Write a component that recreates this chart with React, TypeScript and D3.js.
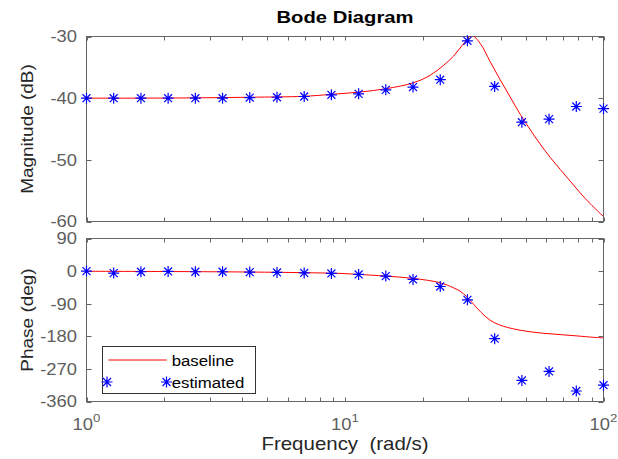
import React from 'react';
import * as d3 from 'd3';

// ---- data ----
const magFreq = [1, 2.10, 4.29, 6.90, 8.75, 11.43, 14.50, 18.39, 21.33, 24.02, 26.27, 28.71, 30.94, 33.32, 36.41, 39.82, 43.54, 47.60, 52.04, 56.89, 62.21, 68.0, 74.3, 81.2, 88.8, 100];
const magBaseline = [-40, -39.98, -39.85, -39.7, -39.4, -39.0, -38.45, -37.5, -36.3, -34.7, -33.2, -31.2, -29.85, -31.1, -34.05, -37.0, -39.8, -42.6, -45.1, -47.45, -49.6, -51.55, -53.45, -55.35, -57.1, -59.2];

const phaseFreq = [1, 2.10, 4.29, 6.90, 9.56, 11.26, 14.38, 18.39, 23.33, 26.27, 27.88, 29.59, 32.36, 34.83, 37.52, 41.02, 44.85, 50.52, 58.6, 68.0, 78.9, 91.5, 100];
const phaseBaseline = [-0.5, -1.2, -2.6, -4.3, -6.4, -9.1, -13.8, -20.2, -32.1, -46, -55.4, -71, -101.4, -124.6, -141.2, -152.3, -159.5, -166.2, -171.7, -175.3, -178.9, -182.8, -184.4];

const estFreq = [1, 1.274, 1.624, 2.069, 2.637, 3.360, 4.281, 5.456, 6.952, 8.859, 11.29, 14.38, 18.33, 23.36, 29.76, 37.93, 48.33, 61.58, 78.48, 100];
const estMag = [-40, -40, -40, -40, -40, -40, -39.9, -39.85, -39.73, -39.45, -39.3, -38.65, -38.2, -37.0, -30.7, -38.1, -43.9, -43.4, -41.35, -41.7];
const estPhase = [0, -5.5, -1.8, -0.9, -1.8, -1.8, -2.8, -3.7, -5, -6.5, -9.2, -13.8, -23, -42.5, -79.4, -186.5, -301.9, -277, -331, -315];

const magTicks = [-60, -50, -40, -30];
const phaseTicks = [-360, -270, -180, -90, 0, 90];
const xMajor = [1, 10, 100];
const xMinor = [2, 3, 4, 5, 6, 7, 8, 9, 20, 30, 40, 50, 60, 70, 80, 90];
const xExp = ['0', '1', '2'];

const title = 'Bode Diagram';
const magLabel = 'Magnitude (dB)';
const phaseLabel = 'Phase (deg)';
const xLabel = 'Frequency  (rad/s)';
const legendNames = ['baseline', 'estimated'];

// ---- layout ----
const W = 618, H = 459;
const X0 = 86.5, X1 = 603.5;
const M_T = 36.5, M_B = 221.5;
const P_T = 238.5, P_B = 401.5;
const FONT = '"Liberation Sans", Arial, Helvetica, sans-serif';
const AX = '#666666';
const TXT = '#5e5e5e';
const SX = 1.15;

const x = d3.scaleLog().domain([1, 100]).range([X0, X1]);
const yM = d3.scaleLinear().domain([-60, -30]).range([M_B, M_T]);
const yP = d3.scaleLinear().domain([-360, 90]).range([P_B, P_T]);

function star(cx: number, cy: number, r = 5.5) {
  const d = r * 0.72;
  return `M${cx - r},${cy}L${cx + r},${cy}M${cx},${cy - r}L${cx},${cy + r}` +
    `M${cx - d},${cy - d}L${cx + d},${cy + d}M${cx - d},${cy + d}L${cx + d},${cy - d}`;
}

function Txt(props: any) {
  const { x: tx, y: ty, rotate = 0, sx = SX, size = 16, anchor = 'middle', weight = 'normal', fill = TXT, children } = props;
  return (
    <text
      transform={`translate(${tx},${ty}) rotate(${rotate}) scale(${sx},1)`}
      textAnchor={anchor}
      fontSize={size}
      fontWeight={weight}
      fontFamily={FONT}
      fill={fill}
      style={{ whiteSpace: 'pre' }}
    >
      {children}
    </text>
  );
}

function Axes({ y, top, bottom, ticks, clipId }: any) {
  return (
    <g>
      <rect x={X0} y={top} width={X1 - X0} height={bottom - top} fill="white" stroke={AX} strokeWidth={1} />
      {xMajor.concat(xMinor).map((v, i) => (
        <g key={'xt' + i}>
          <line x1={Math.round(x(v)) + 0.5} x2={Math.round(x(v)) + 0.5} y1={bottom} y2={bottom - 4} stroke={AX} />
          <line x1={Math.round(x(v)) + 0.5} x2={Math.round(x(v)) + 0.5} y1={top} y2={top + 4} stroke={AX} />
        </g>
      ))}
      {ticks.map((t: number) => (
        <g key={'yt' + t}>
          <line x1={X0} x2={X0 + 5} y1={Math.round(y(t)) + 0.5} y2={Math.round(y(t)) + 0.5} stroke={AX} />
          <line x1={X1} x2={X1 - 5} y1={Math.round(y(t)) + 0.5} y2={Math.round(y(t)) + 0.5} stroke={AX} />
          <Txt x={77} y={y(t) + 5.8} anchor="end">{String(t)}</Txt>
        </g>
      ))}
      <clipPath id={clipId}>
        <rect x={X0} y={top} width={X1 - X0} height={bottom - top} />
      </clipPath>
    </g>
  );
}

export default function App() {
  const magLine = d3.line<number>()
    .x((_, i) => x(magFreq[i]))
    .y((d) => yM(d))
    .curve(d3.curveCatmullRom.alpha(0.5))(magBaseline) as string;
  const phaseLine = d3.line<number>()
    .x((_, i) => x(phaseFreq[i]))
    .y((d) => yP(d))
    .curve(d3.curveCatmullRom.alpha(0.5))(phaseBaseline) as string;

  return (
    <svg width={W} height={H} style={{ position: 'absolute', left: 0, top: 0, background: 'white' }}>
      <rect x={0} y={0} width={W} height={H} fill="white" />
      <Txt x={345} y={22.5} size={17.3} weight="bold" fill="#000" sx={1.17}>{title}</Txt>

      <Axes y={yM} top={M_T} bottom={M_B} ticks={magTicks} clipId="clipM" />
      <path d={magLine} fill="none" stroke="#ff0000" strokeWidth={1} clipPath="url(#clipM)" />
      {estFreq.map((f, i) => (
        <path key={'sm' + i} d={star(x(f), yM(estMag[i]))} stroke="#0000ff" strokeWidth={1.2} fill="none" />
      ))}

      <Axes y={yP} top={P_T} bottom={P_B} ticks={phaseTicks} clipId="clipP" />
      <path d={phaseLine} fill="none" stroke="#ff0000" strokeWidth={1} clipPath="url(#clipP)" />
      {estFreq.map((f, i) => (
        <path key={'sp' + i} d={star(x(f), yP(estPhase[i]))} stroke="#0000ff" strokeWidth={1.2} fill="none" />
      ))}

      {xMajor.map((v, i) => (
        <text key={'xl' + i} transform={`translate(${x(v)},430) scale(${SX},1)`} textAnchor="middle" fontSize={16} fontFamily={FONT} fill={TXT}>
          10<tspan dy={-8} fontSize={11.5}>{xExp[i]}</tspan>
        </text>
      ))}

      <Txt x={33} y={(M_T + M_B) / 2} rotate={-90} size={16.5} fill="#262626">{magLabel}</Txt>
      <Txt x={33} y={(P_T + P_B) / 2} rotate={-90} size={16.5} fill="#262626">{phaseLabel}</Txt>
      <Txt x={345} y={449.5} size={17.5} fill="#262626" sx={1.17}>{xLabel}</Txt>

      {/* legend */}
      <rect x={102.5} y={346.5} width={153} height={47} fill="white" stroke="#333" strokeWidth={1} />
      <line x1={108.3} x2={166.7} y1={360} y2={360} stroke="#ff0000" strokeWidth={1} />
      <Txt x={171.7} y={365.5} size={15} anchor="start" fill="#000" sx={1.12}>{legendNames[0]}</Txt>
      <path d={star(107, 382)} stroke="#0000ff" strokeWidth={1.2} fill="none" />
      <path d={star(166.5, 382)} stroke="#0000ff" strokeWidth={1.2} fill="none" />
      <Txt x={171.7} y={387.5} size={15} anchor="start" fill="#000" sx={1.12}>{legendNames[1]}</Txt>
    </svg>
  );
}
